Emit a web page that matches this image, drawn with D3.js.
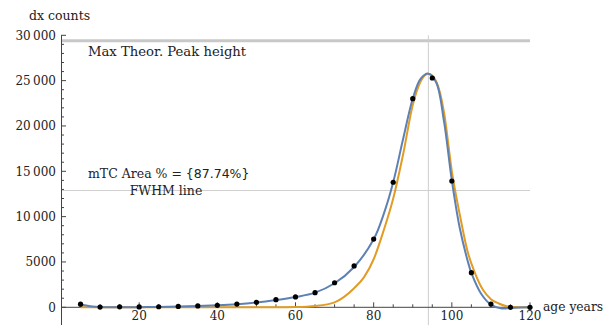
<!DOCTYPE html>
<html><head><meta charset="utf-8">
<script src="https://cdn.jsdelivr.net/npm/d3@7"></script>
<style>body{margin:0;background:#fff}svg{display:block}</style>
</head><body>
<svg id="c" width="603" height="325"></svg>
<script>
// Data points (age, dx counts)
const pointAges = [5,10,15,20,25,30,35,40,45,50,55,60,65,70,75,80,85,90,95,100,105,110,115,120];
const pointCounts = [350,30,50,40,60,100,150,220,360,550,840,1140,1610,2710,4560,7530,13790,23010,25290,13930,3820,360,0,0];
// Blue fitted curve samples
const blueAges = [5,7.5,10,15,20,25,30,35,40,45,50,55,60,65,70,75,80,82.5,85,87.5,90,92,94,96,98,100,102,104,105,107.5,110,112.5,115,117.5,120];
const blueCounts = [300,120,20,0,10,40,80,140,220,340,530,800,1130,1620,2650,4450,7500,10200,13800,18500,23000,25200,25770,24800,20500,14000,8800,5200,3800,1500,300,-100,-80,-20,0];
// Orange theoretical curve samples
const orangeAges = [5,20,40,55,60,65,70,75,77.5,80,82.5,85,87.5,90,92,94,96,98,100,102,104,106,108,110,112,114,116,118,120];
const orangeCounts = [0,0,0,0,30,150,550,2100,3300,5300,8400,12000,16800,22300,24900,25770,24900,21500,15000,10300,6200,3700,1900,900,420,120,20,0,0];
const maxPeak = 29400;
const fwhm = 12885;
const peakAge = 94;
const xTicks = [20,40,60,80,100,120];
const yTicks = [0,5000,10000,15000,20000,25000,30000];
const yTickLabels = ["0","5000","10\u2009000","15\u2009000","20\u2009000","25\u2009000","30\u2009000"];

const svg = d3.select("#c");
const x = d3.scaleLinear().domain([0,120]).range([61,530]);
const y = d3.scaleLinear().domain([0,30000]).range([307.3,35.3]);
const serif = "DejaVu Serif";
const gray = "#cfcfcf";

// reference lines
svg.append("line").attr("x1",x(0)).attr("x2",x(120)).attr("y1",y(maxPeak)).attr("y2",y(maxPeak))
  .attr("stroke","#c8c8c8").attr("stroke-width",3);
svg.append("line").attr("x1",x(0)).attr("x2",x(120)).attr("y1",y(fwhm)).attr("y2",y(fwhm))
  .attr("stroke",gray).attr("stroke-width",1);
svg.append("line").attr("x1",x(peakAge)).attr("x2",x(peakAge)).attr("y1",y(30000)).attr("y2",325)
  .attr("stroke",gray).attr("stroke-width",1);

// axes
const axG = svg.append("g").attr("stroke","#444").attr("stroke-width",1);
axG.append("line").attr("x1",x(0)+0.5).attr("x2",x(0)+0.5).attr("y1",y(30000)).attr("y2",325);
axG.append("line").attr("x1",x(0)).attr("x2",x(120)).attr("y1",y(0)).attr("y2",y(0));
d3.range(0,30001,1000).forEach(v=>{
  const major = v%5000===0;
  axG.append("line").attr("x1",x(0)).attr("x2",x(0)+(major?5:3)).attr("y1",y(v)).attr("y2",y(v));
});
d3.range(5,121,5).forEach(v=>{
  const major = v%20===0;
  axG.append("line").attr("x1",x(v)).attr("x2",x(v)).attr("y1",y(0)).attr("y2",y(0)-(major?5:3));
});
svg.selectAll(".yl").data(yTicks).join("text").attr("class","yl")
  .attr("x",56).attr("y",d=>y(d)+4.5).attr("text-anchor","end")
  .attr("font-family",serif).attr("font-size",12).attr("fill","#222")
  .text((d,i)=>yTickLabels[i]);
svg.selectAll(".xl").data(xTicks).join("text").attr("class","xl")
  .attr("x",d=>x(d)).attr("y",320).attr("text-anchor","middle")
  .attr("font-family",serif).attr("font-size",12).attr("fill","#222")
  .text(d=>d);
svg.append("text").attr("x",29).attr("y",20).attr("font-family",serif).attr("font-size",12.5).attr("fill","#222").text("dx counts");
svg.append("text").attr("x",543).attr("y",311).attr("font-family",serif).attr("font-size",12.3).attr("fill","#222").text("age years");

// curves
const line = d3.line().x(d=>x(d[0])).y(d=>y(d[1])).curve(d3.curveMonotoneX);
svg.append("path").datum(d3.zip(orangeAges,orangeCounts)).attr("d",line)
  .attr("fill","none").attr("stroke","#E19C24").attr("stroke-width",2);
svg.append("path").datum(d3.zip(blueAges,blueCounts)).attr("d",d3.line().x(d=>x(d[0])).y(d=>y(d[1])).curve(d3.curveCatmullRom))
  .attr("fill","none").attr("stroke","#5E81B5").attr("stroke-width",2);

// points
svg.selectAll(".pt").data(d3.zip(pointAges,pointCounts)).join("circle").attr("class","pt")
  .attr("cx",d=>x(d[0])).attr("cy",d=>y(d[1])).attr("r",2.6).attr("fill","#000");

// annotations
svg.append("text").attr("x",88).attr("y",y(maxPeak)+15).attr("font-family",serif).attr("font-size",13.2).attr("fill","#222").text("Max Theor. Peak height");
const t = svg.append("text").attr("x",88).attr("y",178).attr("font-family",serif).attr("font-size",12.5).attr("fill","#222");
t.append("tspan").text("mTC Area % = ");
t.append("tspan").attr("font-family","DejaVu Sans").text("{87.74%}");
svg.append("text").attr("x",166).attr("y",195).attr("text-anchor","middle").attr("font-family",serif).attr("font-size",12.5).attr("fill","#222").text("FWHM line");
</script>
</body></html>
